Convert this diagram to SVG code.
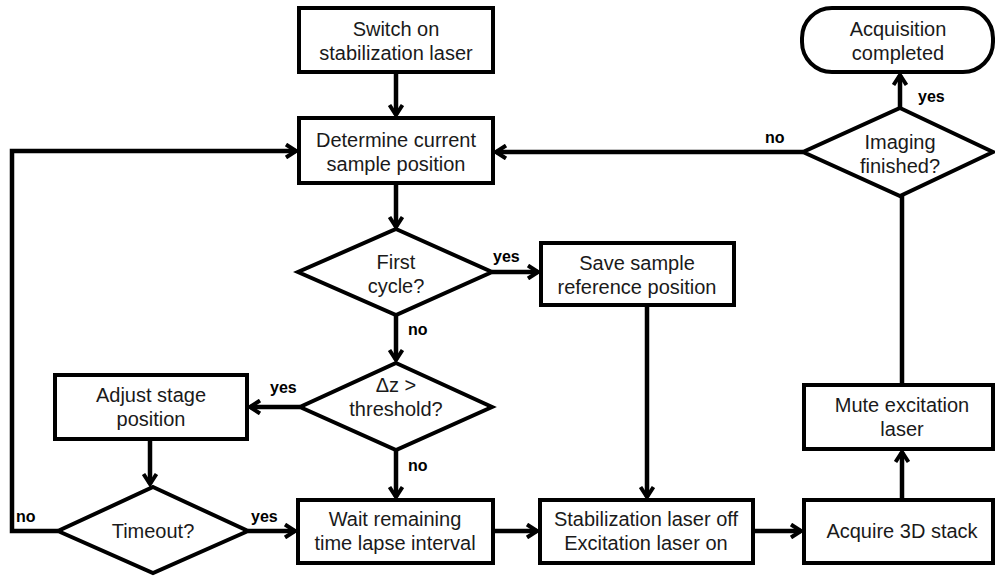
<svg xmlns="http://www.w3.org/2000/svg" width="995" height="578" viewBox="0 0 995 578">
<defs>
<marker id="ah" markerUnits="userSpaceOnUse" markerWidth="16" markerHeight="16" viewBox="0 0 16 16" refX="13" refY="8" orient="auto">
<path d="M3,1.5 L13,8 L3,14.5" fill="none" stroke="#000" stroke-width="4" stroke-linejoin="miter"/>
</marker>
</defs>
<style>
.box{fill:#fff;stroke:#000;stroke-width:4}
.t{font-family:"Liberation Sans",Arial,sans-serif;font-size:20px;fill:#1a1a1a;text-anchor:middle}
.l{font-family:"Liberation Sans",Arial,sans-serif;font-size:16px;font-weight:bold;fill:#000}
.c{fill:none;stroke:#000;stroke-width:4.5}
</style>
<rect width="995" height="578" fill="#fff"/>
<g id="connectors">
<line class="c" x1="396" y1="72" x2="396" y2="115" marker-end="url(#ah)"/>
<line class="c" x1="396" y1="183" x2="396" y2="227" marker-end="url(#ah)"/>
<line class="c" x1="492" y1="272" x2="538" y2="272" marker-end="url(#ah)"/>
<line class="c" x1="396" y1="315" x2="396" y2="360" marker-end="url(#ah)"/>
<line class="c" x1="300" y1="407" x2="250" y2="407" marker-end="url(#ah)"/>
<line class="c" x1="150" y1="439" x2="150" y2="484" marker-end="url(#ah)"/>
<polyline class="c" points="58,531 12,531 12,151 296,151" marker-end="url(#ah)"/>
<line class="c" x1="248" y1="531" x2="295" y2="531" marker-end="url(#ah)"/>
<line class="c" x1="396" y1="450" x2="396" y2="497" marker-end="url(#ah)"/>
<line class="c" x1="493" y1="531" x2="537" y2="531" marker-end="url(#ah)"/>
<line class="c" x1="647" y1="305" x2="647" y2="497" marker-end="url(#ah)"/>
<line class="c" x1="753" y1="531" x2="801" y2="531" marker-end="url(#ah)"/>
<line class="c" x1="902" y1="500" x2="902" y2="452" marker-end="url(#ah)"/>
<line class="c" x1="902" y1="385" x2="902" y2="196"/>
<line class="c" x1="900" y1="108" x2="900" y2="75" marker-end="url(#ah)"/>
<line class="c" x1="803" y1="152" x2="496" y2="152" marker-end="url(#ah)"/>
<text class="l" x="493" y="262">yes</text>
<text class="l" x="408" y="335">no</text>
<text class="l" x="270" y="393">yes</text>
<text class="l" x="408" y="471">no</text>
<text class="l" x="16" y="522">no</text>
<text class="l" x="251" y="522">yes</text>
<text class="l" x="918" y="102">yes</text>
<text class="l" x="765" y="143">no</text>
</g>
<g id="n_switch">
<rect class="box" x="299" y="8" width="194" height="64"/>
<text class="t" x="396" y="36">Switch on</text>
<text class="t" x="396" y="60">stabilization laser</text>
</g>
<g id="n_determine">
<rect class="box" x="299" y="118" width="194" height="65"/>
<text class="t" x="396" y="147">Determine current</text>
<text class="t" x="396" y="171">sample position</text>
</g>
<g id="n_first">
<polygon class="box" points="396,229 492,272 396,315 298,272"/>
<text class="t" x="396" y="269">First</text>
<text class="t" x="396" y="293">cycle?</text>
</g>
<g id="n_save">
<rect class="box" x="541" y="243" width="193" height="62"/>
<text class="t" x="637" y="270">Save sample</text>
<text class="t" x="637" y="294">reference position</text>
</g>
<g id="n_dz">
<polygon class="box" points="396,363 492,407 396,450 300,407"/>
<text class="t" x="396" y="392">Δz &gt;</text>
<text class="t" x="396" y="416">threshold?</text>
</g>
<g id="n_adjust">
<rect class="box" x="55" y="375" width="192" height="64"/>
<text class="t" x="151" y="402">Adjust stage</text>
<text class="t" x="151" y="426">position</text>
</g>
<g id="n_timeout">
<polygon class="box" points="153,487 248,531 153,573 58,531"/>
<text class="t" x="153" y="538">Timeout?</text>
</g>
<g id="n_wait">
<rect class="box" x="298" y="500" width="195" height="63"/>
<text class="t" x="395" y="526">Wait remaining</text>
<text class="t" x="395" y="550">time lapse interval</text>
</g>
<g id="n_stab">
<rect class="box" x="540" y="500" width="213" height="63"/>
<text class="t" x="646" y="526">Stabilization laser off</text>
<text class="t" x="646" y="550">Excitation laser on</text>
</g>
<g id="n_acquire">
<rect class="box" x="804" y="500" width="189" height="63"/>
<text class="t" x="902" y="538">Acquire 3D stack</text>
</g>
<g id="n_mute">
<rect class="box" x="804" y="385" width="189" height="64"/>
<text class="t" x="902" y="412">Mute excitation</text>
<text class="t" x="902" y="436">laser</text>
</g>
<g id="n_imaging">
<polygon class="box" points="900,108 993,152 900,196 803,152"/>
<text class="t" x="900" y="149">Imaging</text>
<text class="t" x="900" y="173">finished?</text>
</g>
<g id="n_done">
<rect class="box" x="802" y="8" width="191" height="64" rx="30" ry="30"/>
<text class="t" x="898" y="36">Acquisition</text>
<text class="t" x="898" y="60">completed</text>
</g>
</svg>
